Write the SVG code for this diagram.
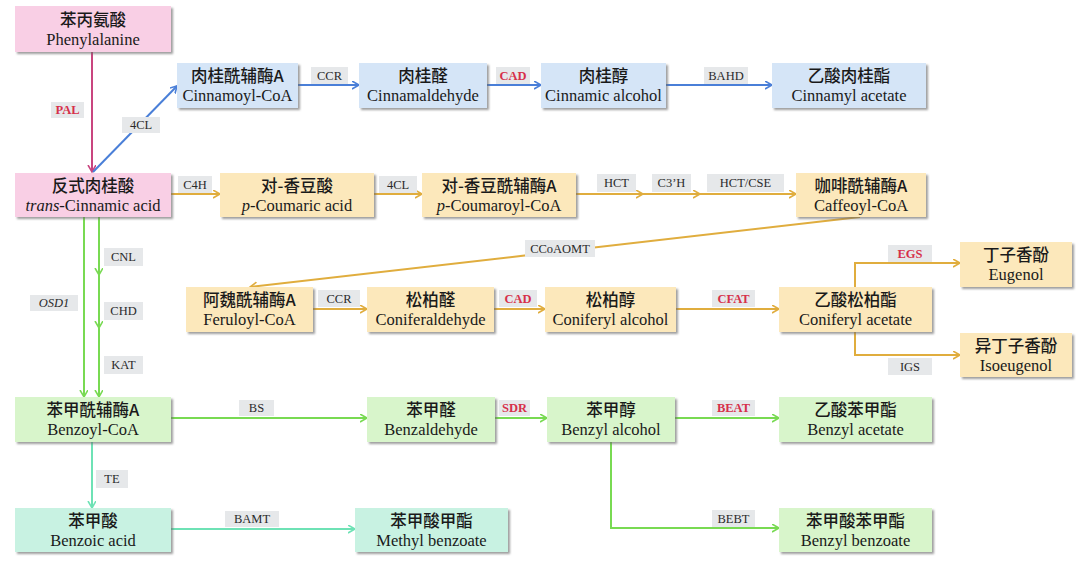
<svg xmlns="http://www.w3.org/2000/svg" width="1080" height="562" viewBox="0 0 1080 562">
<defs>
<filter id="sh" x="-10%" y="-10%" width="125%" height="135%">
<feDropShadow dx="2" dy="2" stdDeviation="1" flood-color="#6b6b6b" flood-opacity="0.65"/>
</filter>
<marker id="mPink" markerUnits="userSpaceOnUse" markerWidth="10" markerHeight="10" refX="7" refY="4" orient="auto"><path d="M0,0 L7,4 L0,8" fill="none" stroke="#c9457f" stroke-width="1.6"/></marker>
<marker id="mBlue" markerUnits="userSpaceOnUse" markerWidth="10" markerHeight="10" refX="7" refY="4" orient="auto"><path d="M0,0 L7,4 L0,8" fill="none" stroke="#4a7fd8" stroke-width="1.6"/></marker>
<marker id="mYel" markerUnits="userSpaceOnUse" markerWidth="10" markerHeight="10" refX="7" refY="4" orient="auto"><path d="M0,0 L7,4 L0,8" fill="none" stroke="#e0ad3e" stroke-width="1.6"/></marker>
<marker id="mGrn" markerUnits="userSpaceOnUse" markerWidth="10" markerHeight="10" refX="7" refY="4" orient="auto"><path d="M0,0 L7,4 L0,8" fill="none" stroke="#78da52" stroke-width="1.6"/></marker>
<marker id="mTeal" markerUnits="userSpaceOnUse" markerWidth="10" markerHeight="10" refX="7" refY="4" orient="auto"><path d="M0,0 L7,4 L0,8" fill="none" stroke="#6ee2b5" stroke-width="1.6"/></marker>
</defs>
<style>
.n rect{filter:url(#sh);}
.pink{fill:#f9cfe5;}
.blue{fill:#d5e5f7;}
.yel{fill:#fce8bb;}
.grn{fill:#d8f5cb;}
.teal{fill:#c8f2e2;}
.zh{font-family:"Noto Sans CJK SC","Noto Sans CJK TC",sans-serif;font-size:16.5px;font-weight:500;fill:#1a1a1a;text-anchor:middle;}
.en{font-family:"Liberation Serif",serif;font-size:16.5px;fill:#1a1a1a;text-anchor:middle;}
.lb rect{fill:#e6e8ea;}
.lt{font-family:"Liberation Serif",serif;font-size:12.5px;fill:#2a2a2a;text-anchor:middle;}
.lr{font-family:"Liberation Serif",serif;font-size:12.5px;font-weight:bold;fill:#d6304a;text-anchor:middle;}
.c path{fill:none;stroke-width:2;}
.cp{stroke:#c9457f;marker-end:url(#mPink);}
.cb{stroke:#4a7fd8;marker-end:url(#mBlue);}
.cy{stroke:#e0ad3e;marker-end:url(#mYel);}
.cg{stroke:#78da52;marker-end:url(#mGrn);stroke-width:2.4;}
.ct{stroke:#6ee2b5;marker-end:url(#mTeal);}
</style>
<rect width="1080" height="562" fill="#ffffff"/>

<g id="connectors" class="c">
<path class="cp" d="M92,52 V172"/>
<path class="cb" d="M93,172 L177,86"/>
<path class="cb" d="M298,85 H359"/>
<path class="cb" d="M487,85 H541"/>
<path class="cb" d="M666,85 H772"/>
<path class="cy" d="M171,194 H220"/>
<path class="cy" d="M374,194 H422"/>
<path class="cy" d="M576,194 H643"/>
<path class="cy" d="M643,194 H700"/>
<path class="cy" d="M700,194 H796"/>
<path class="cy" d="M860,217 L250,287"/>
<path class="cy" d="M313,309 H367"/>
<path class="cy" d="M494,309 H545"/>
<path class="cy" d="M676,309 H779"/>
<path class="cy" d="M855,287 V263 H960"/>
<path class="cy" d="M855,332 V355 H960"/>
<path class="cg" d="M84,217 V397"/>
<path class="cg" d="M99,217 V275"/>
<path class="cg" d="M99,275 V328"/>
<path class="cg" d="M99,328 V397"/>
<path class="cg" d="M171,418 H367"/>
<path class="cg" d="M495,418 H547"/>
<path class="cg" d="M675,418 H779"/>
<path class="cg" d="M611,442 V528 H779"/>
<path class="ct" d="M92,442 V508"/>
<path class="ct" d="M171,529 H355"/>
</g>

<g id="labels" class="lb">
<rect x="51" y="102" width="33" height="16"/><text class="lr" x="67.5" y="114">PAL</text>
<rect x="122" y="117" width="38" height="16"/><text class="lt" x="141" y="129">4CL</text>
<rect x="311" y="67" width="37" height="17"/><text class="lt" x="329.5" y="80">CCR</text>
<rect x="496" y="67" width="34" height="17"/><text class="lr" x="513" y="80">CAD</text>
<rect x="704" y="67" width="44" height="17"/><text class="lt" x="726" y="80">BAHD</text>
<rect x="178" y="176" width="34" height="17"/><text class="lt" x="195" y="189">C4H</text>
<rect x="379" y="176" width="38" height="17"/><text class="lt" x="398" y="189">4CL</text>
<rect x="597" y="174" width="39" height="18"/><text class="lt" x="616.5" y="187">HCT</text>
<rect x="652" y="174" width="39" height="18"/><text class="lt" x="671.5" y="187">C3’H</text>
<rect x="707" y="174" width="77" height="18"/><text class="lt" x="745.5" y="187">HCT/CSE</text>
<rect x="525" y="240" width="70" height="17"/><text class="lt" x="560" y="253">CCoAOMT</text>
<rect x="318" y="290" width="42" height="17"/><text class="lt" x="339" y="303">CCR</text>
<rect x="499" y="290" width="38" height="17"/><text class="lr" x="518" y="303">CAD</text>
<rect x="712" y="290" width="43" height="17"/><text class="lr" x="733.5" y="303">CFAT</text>
<rect x="888" y="245" width="44" height="17"/><text class="lr" x="910" y="258">EGS</text>
<rect x="888" y="358" width="44" height="17"/><text class="lt" x="910" y="371">IGS</text>
<rect x="104" y="248" width="39" height="18"/><text class="lt" x="123.5" y="261">CNL</text>
<rect x="104" y="302" width="39" height="18"/><text class="lt" x="123.5" y="315">CHD</text>
<rect x="104" y="356" width="39" height="18"/><text class="lt" x="123.5" y="369">KAT</text>
<rect x="30" y="295" width="48" height="16"/><text class="lt" x="54" y="307" font-style="italic">OSD1</text>
<rect x="239" y="400" width="35" height="16"/><text class="lt" x="256.5" y="412">BS</text>
<rect x="499" y="400" width="31" height="16"/><text class="lr" x="514.5" y="412">SDR</text>
<rect x="712" y="400" width="43" height="16"/><text class="lr" x="733.5" y="412">BEAT</text>
<rect x="712" y="510" width="43" height="17"/><text class="lt" x="733.5" y="523">BEBT</text>
<rect x="96" y="470" width="32" height="18"/><text class="lt" x="112" y="483">TE</text>
<rect x="225" y="511" width="54" height="16"/><text class="lt" x="252" y="523">BAMT</text>
</g>

<g id="n-phenylalanine" class="n"><rect class="pink" x="15" y="6" width="156" height="46"/><text class="zh" x="93" y="26">苯丙氨酸</text><text class="en" x="93" y="45">Phenylalanine</text></g>
<g id="n-trans-cinnamic" class="n"><rect class="pink" x="15" y="173" width="156" height="44"/><text class="zh" x="93" y="192">反式肉桂酸</text><text class="en" x="93" y="211"><tspan font-style="italic">trans</tspan>-Cinnamic acid</text></g>
<g id="n-cinnamoyl-coa" class="n"><rect class="blue" x="177" y="63" width="121" height="45"/><text class="zh" x="237.5" y="82">肉桂酰辅酶A</text><text class="en" x="237.5" y="101">Cinnamoyl-CoA</text></g>
<g id="n-cinnamaldehyde" class="n"><rect class="blue" x="359" y="63" width="128" height="45"/><text class="zh" x="423" y="82">肉桂醛</text><text class="en" x="423" y="101">Cinnamaldehyde</text></g>
<g id="n-cinnamic-alcohol" class="n"><rect class="blue" x="541" y="63" width="125" height="45"/><text class="zh" x="603.5" y="82">肉桂醇</text><text class="en" x="603.5" y="101">Cinnamic alcohol</text></g>
<g id="n-cinnamyl-acetate" class="n"><rect class="blue" x="772" y="63" width="154" height="45"/><text class="zh" x="849" y="82">乙酸肉桂酯</text><text class="en" x="849" y="101">Cinnamyl acetate</text></g>
<g id="n-p-coumaric" class="n"><rect class="yel" x="220" y="173" width="154" height="44"/><text class="zh" x="297" y="192">对-香豆酸</text><text class="en" x="297" y="211"><tspan font-style="italic">p</tspan>-Coumaric acid</text></g>
<g id="n-p-coumaroyl-coa" class="n"><rect class="yel" x="422" y="173" width="154" height="44"/><text class="zh" x="499" y="192">对-香豆酰辅酶A</text><text class="en" x="499" y="211"><tspan font-style="italic">p</tspan>-Coumaroyl-CoA</text></g>
<g id="n-caffeoyl-coa" class="n"><rect class="yel" x="796" y="173" width="130" height="44"/><text class="zh" x="861" y="192">咖啡酰辅酶A</text><text class="en" x="861" y="211">Caffeoyl-CoA</text></g>
<g id="n-feruloyl-coa" class="n"><rect class="yel" x="186" y="287" width="127" height="45"/><text class="zh" x="249.5" y="306">阿魏酰辅酶A</text><text class="en" x="249.5" y="325">Feruloyl-CoA</text></g>
<g id="n-coniferaldehyde" class="n"><rect class="yel" x="367" y="287" width="127" height="45"/><text class="zh" x="430.5" y="306">松柏醛</text><text class="en" x="430.5" y="325">Coniferaldehyde</text></g>
<g id="n-coniferyl-alcohol" class="n"><rect class="yel" x="545" y="287" width="131" height="45"/><text class="zh" x="610.5" y="306">松柏醇</text><text class="en" x="610.5" y="325">Coniferyl alcohol</text></g>
<g id="n-coniferyl-acetate" class="n"><rect class="yel" x="779" y="287" width="153" height="45"/><text class="zh" x="855.5" y="306">乙酸松柏酯</text><text class="en" x="855.5" y="325">Coniferyl acetate</text></g>
<g id="n-eugenol" class="n"><rect class="yel" x="960" y="242" width="112" height="45"/><text class="zh" x="1016" y="261">丁子香酚</text><text class="en" x="1016" y="280">Eugenol</text></g>
<g id="n-isoeugenol" class="n"><rect class="yel" x="960" y="333" width="112" height="44"/><text class="zh" x="1016" y="352">异丁子香酚</text><text class="en" x="1016" y="371">Isoeugenol</text></g>
<g id="n-benzoyl-coa" class="n"><rect class="grn" x="15" y="397" width="156" height="45"/><text class="zh" x="93" y="416">苯甲酰辅酶A</text><text class="en" x="93" y="435">Benzoyl-CoA</text></g>
<g id="n-benzaldehyde" class="n"><rect class="grn" x="367" y="397" width="128" height="45"/><text class="zh" x="431" y="416">苯甲醛</text><text class="en" x="431" y="435">Benzaldehyde</text></g>
<g id="n-benzyl-alcohol" class="n"><rect class="grn" x="547" y="397" width="128" height="45"/><text class="zh" x="611" y="416">苯甲醇</text><text class="en" x="611" y="435">Benzyl alcohol</text></g>
<g id="n-benzyl-acetate" class="n"><rect class="grn" x="779" y="397" width="153" height="45"/><text class="zh" x="855.5" y="416">乙酸苯甲酯</text><text class="en" x="855.5" y="435">Benzyl acetate</text></g>
<g id="n-benzoic-acid" class="n"><rect class="teal" x="15" y="508" width="156" height="44"/><text class="zh" x="93" y="527">苯甲酸</text><text class="en" x="93" y="546">Benzoic acid</text></g>
<g id="n-methyl-benzoate" class="n"><rect class="teal" x="355" y="508" width="153" height="44"/><text class="zh" x="431.5" y="527">苯甲酸甲酯</text><text class="en" x="431.5" y="546">Methyl benzoate</text></g>
<g id="n-benzyl-benzoate" class="n"><rect class="grn" x="779" y="508" width="153" height="44"/><text class="zh" x="855.5" y="527">苯甲酸苯甲酯</text><text class="en" x="855.5" y="546">Benzyl benzoate</text></g>
</svg>
